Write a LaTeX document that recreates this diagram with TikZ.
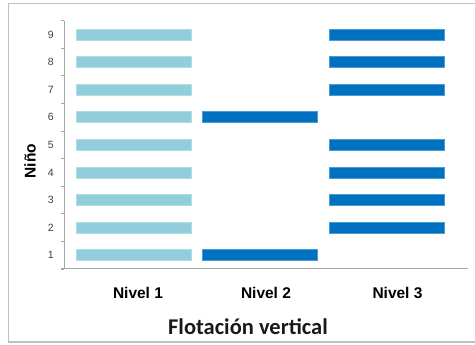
\documentclass[tikz,border=0pt]{standalone}
\usepackage{fontspec}
\setmainfont{Liberation Sans}[BoldFont={Liberation Sans Bold}]
\newfontfamily\carlito{Carlito}[BoldFont={Carlito Bold}]
\definecolor{barlight}{HTML}{92CDDC}
\definecolor{bardark}{HTML}{0070C0}
\definecolor{framegray}{HTML}{BFBFBF}
\definecolor{axisgray}{HTML}{A6A6A6}
\definecolor{ticktext}{HTML}{404040}
\tikzset{
  lightbar/.style={fill=barlight,draw=barlight!70!white,line width=0.6pt},
  darkbar/.style={fill=bardark,draw=bardark!70!white,line width=0.6pt},
  ticklabel/.style={anchor=east,inner sep=0pt,text=ticktext,font=\fontsize{10.5}{10.5}\selectfont},
  catlabel/.style={inner sep=0pt,font=\fontsize{15.5}{15.5}\selectfont\bfseries,text=black},
}
\begin{document}
\begin{tikzpicture}[x=1pt,y=1pt]
  \useasboundingbox (0,0) rectangle (475,345);
  \clip (0,0) rectangle (475,345);
  \draw [framegray,line width=1.5pt] (8.5,3) rectangle (480,341.5);
  % axes
  \draw [axisgray,line width=1pt] (64,324)--(64,76);
  \draw [axisgray,line width=1pt] (61,76)--(468,76);
  \foreach \v in {0.5,1.5,...,9.5}
    \draw [axisgray,line width=0.8pt] (61,{76+(\v-0.5)*27.6})--(64,{76+(\v-0.5)*27.6});
  \foreach \v in {1,...,9}
    \node [ticklabel] (tick\v) at (54,{76+(\v-0.5)*27.6}) {\v};
  % Nivel 1
  \foreach \v in {1,...,9}
    \draw [lightbar] (76,{76+(\v-0.5)*27.6-5.5}) rectangle (191,{76+(\v-0.5)*27.6+5.5});
  % Nivel 2
  \foreach \v in {1,6}
    \draw [darkbar] (202,{76+(\v-0.5)*27.6-5.5}) rectangle (317,{76+(\v-0.5)*27.6+5.5});
  % Nivel 3
  \foreach \v in {2,3,4,5,7,8,9}
    \draw [darkbar] (329,{76+(\v-0.5)*27.6-5.5}) rectangle (444,{76+(\v-0.5)*27.6+5.5});
  \node [catlabel] (nivel1) at (138,52) {Nivel 1};
  \node [catlabel] (nivel2) at (266,52) {Nivel 2};
  \node [catlabel] (nivel3) at (397.5,52) {Nivel 3};
  \node [catlabel,rotate=90] (nino) at (30,184) {Niño};
  \node [anchor=base,inner sep=0pt,font=\carlito\fontsize{22.5}{22.5}\selectfont\bfseries,text=black!90] (titulo) at (248,10) {Flotación vertical};
\end{tikzpicture}
\end{document}
